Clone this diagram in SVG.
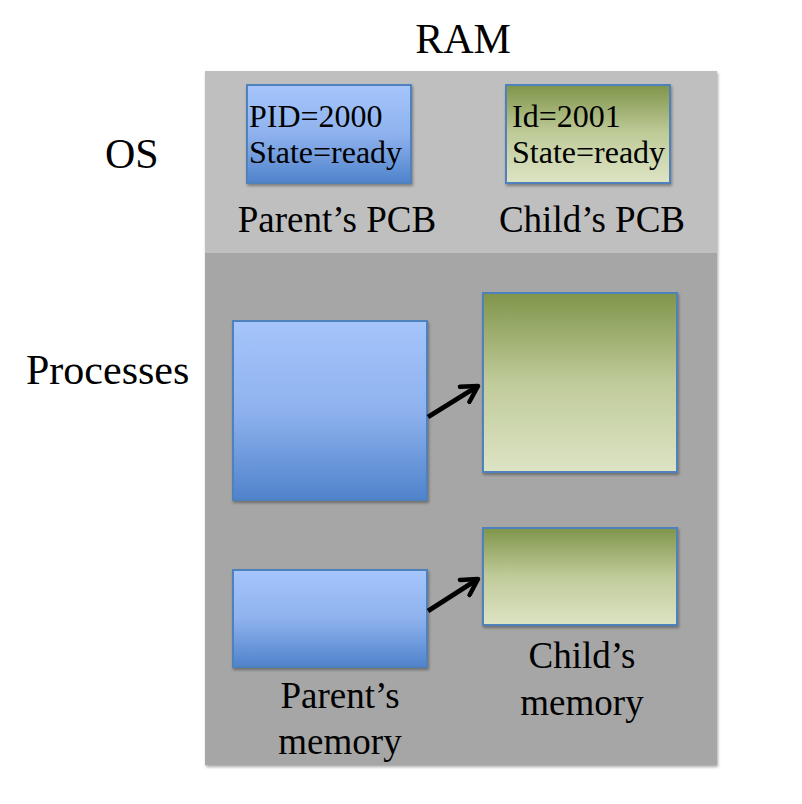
<svg xmlns="http://www.w3.org/2000/svg" width="802" height="804" viewBox="0 0 802 804">
<defs>
<linearGradient id="blue" x1="0" y1="0" x2="0" y2="1">
<stop offset="0" stop-color="#a5c5fb"/>
<stop offset="0.5" stop-color="#8fb2ee"/>
<stop offset="1" stop-color="#4f83cb"/>
</linearGradient>
<linearGradient id="green" x1="0" y1="0" x2="0" y2="1">
<stop offset="0" stop-color="#7f954a"/>
<stop offset="0.5" stop-color="#c0cb9a"/>
<stop offset="1" stop-color="#dce4c4"/>
</linearGradient>
<filter id="sh" x="-10%" y="-10%" width="130%" height="130%">
<feDropShadow dx="1" dy="2" stdDeviation="1.5" flood-color="#000" flood-opacity="0.35"/>
</filter>
<marker id="ah" viewBox="0 0 10 10" refX="8" refY="5" markerWidth="4.5" markerHeight="4.5" orient="auto" markerUnits="strokeWidth">
<path d="M1,1 L8,5 L1,9" fill="none" stroke="#000" stroke-width="2" stroke-linecap="round" stroke-linejoin="round"/>
</marker>
</defs>
<style>
text{font-family:"Liberation Serif","Times New Roman",serif;fill:#000}
.big{font-size:42px}
.lab{font-size:37px;text-anchor:middle}
.pcb{font-size:32px}
.b{fill:url(#blue);stroke:#4f81bd;stroke-width:2;filter:url(#sh)}
.g{fill:url(#green);stroke:#4f81bd;stroke-width:2;filter:url(#sh)}
.conn{stroke:#000;stroke-width:5;fill:none;marker-end:url(#ah)}
</style>
<rect width="802" height="804" fill="#fff"/>
<g id="ram" filter="url(#sh)">
<rect x="205" y="71" width="512" height="182" fill="#bfbfbf"/>
<rect x="205" y="253" width="512" height="512" fill="#a6a6a6"/>
</g>
<text class="big" x="463" y="53" text-anchor="middle">RAM</text>
<text class="big" x="105" y="168">OS</text>
<text class="big" x="26" y="384">Processes</text>
<g id="parent-pcb">
<rect class="b" x="247" y="85" width="164" height="98"/>
<text class="pcb" x="249" y="127">PID=2000</text>
<text class="pcb" x="249" y="163">State=ready</text>
<text class="lab" x="337" y="232">Parent’s PCB</text>
</g>
<g id="child-pcb">
<rect class="g" x="506" y="85" width="164" height="98"/>
<text class="pcb" x="512" y="127">Id=2001</text>
<text class="pcb" x="512" y="163">State=ready</text>
<text class="lab" x="592" y="232">Child’s PCB</text>
</g>
<g id="parent-big">
<rect class="b" x="233" y="321" width="194" height="179"/>
</g>
<g id="child-big">
<rect class="g" x="483" y="293" width="194" height="179"/>
</g>
<g id="parent-mem">
<rect class="b" x="233" y="570" width="194" height="97"/>
<text class="lab" x="340" y="708">Parent’s</text>
<text class="lab" x="340" y="754">memory</text>
</g>
<g id="child-mem">
<rect class="g" x="483" y="528" width="194" height="97"/>
<text class="lab" x="582" y="668">Child’s</text>
<text class="lab" x="582" y="715">memory</text>
</g>
<g id="connectors">
<line class="conn" x1="428" y1="417" x2="478" y2="386"/>
<line class="conn" x1="428" y1="611" x2="478" y2="579"/>
</g>
</svg>
